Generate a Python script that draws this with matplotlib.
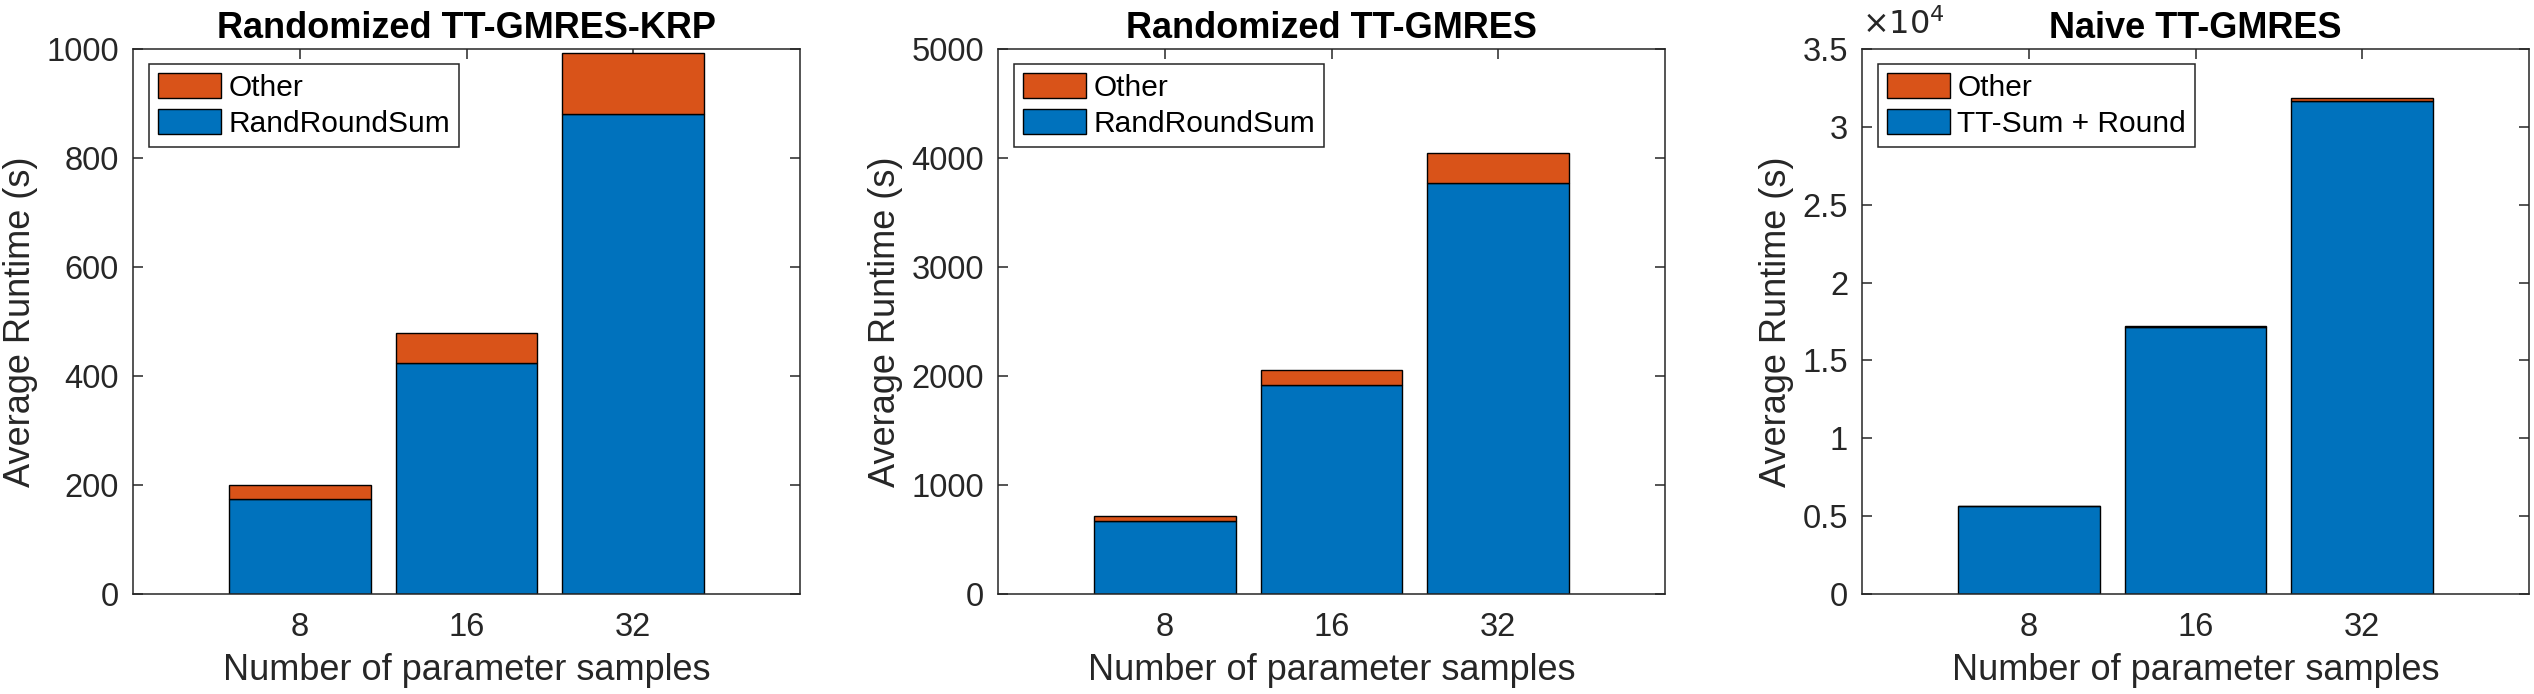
import matplotlib
matplotlib.use("Agg")
import matplotlib.pyplot as plt
import numpy as np
from matplotlib.patches import Patch
from matplotlib.ticker import FuncFormatter

plt.rcParams["font.family"] = ["Liberation Sans", "DejaVu Sans"]

SAMPLES = ["8", "16", "32"]
TITLES = ["Randomized TT-GMRES-KRP", "Randomized TT-GMRES", "Naive TT-GMRES"]
MAIN_LABELS = ["RandRoundSum", "RandRoundSum", "TT-Sum + Round"]
MAIN_TIME = [
    [175, 424, 880],
    [673, 1917, 3772],
    [5640, 17130, 31690],
]
TOTAL_TIME = [
    [200, 479, 992],
    [716, 2054, 4044],
    [5660, 17210, 31850],
]
YMAX = [1000, 5000, 35000]
YSTEP = [200, 1000, 5000]

BLUE = "#0072BD"
ORANGE = "#D95319"
AXCOL = "#262626"

W, H = 2534, 694
LEFTS = [133, 998, 1862]
AX_W, AX_TOP, AX_BOT = 667, 49, 594

fig = plt.figure(figsize=(W / 100, H / 100), dpi=100)

for i in range(3):
    ax = fig.add_axes([LEFTS[i] / W, 1 - AX_BOT / H, AX_W / W, (AX_BOT - AX_TOP) / H])
    x = np.arange(1, len(SAMPLES) + 1)
    main = np.array(MAIN_TIME[i], dtype=float)
    other = np.array(TOTAL_TIME[i], dtype=float) - main
    ax.bar(x, main, width=0.85, color=BLUE, edgecolor="black", linewidth=1.0, zorder=2)
    ax.bar(x, other, bottom=main, width=0.85, color=ORANGE, edgecolor="black", linewidth=1.0, zorder=2)

    ax.set_xlim(0, 4)
    ax.set_ylim(0, YMAX[i])
    ax.set_xticks(x)
    ax.set_xticklabels(SAMPLES)
    ax.set_yticks(np.arange(0, YMAX[i] + 1, YSTEP[i]))
    if i == 2:
        ax.yaxis.set_major_formatter(FuncFormatter(lambda v, p: f"{v / 1e4:g}"))
        ax.text(0.0, 1.015, r"$\times 10^4$", transform=ax.transAxes, fontsize=23,
                color=AXCOL, ha="left", va="bottom")

    for side in ax.spines.values():
        side.set_color(AXCOL)
        side.set_linewidth(1.1)
    ax.tick_params(direction="in", top=True, right=True, length=7, width=1.1,
                   color=AXCOL, labelcolor=AXCOL, labelsize=23.5)
    ax.tick_params(axis="x", pad=13)
    ax.tick_params(axis="y", pad=10)

    ax.set_title(TITLES[i], fontsize=26, fontweight="bold", pad=8)
    ax.set_xlabel("Number of parameter samples", fontsize=26, color=AXCOL, labelpad=7)
    ax.set_ylabel("Average Runtime (s)", fontsize=26, color=AXCOL, labelpad=6)

    handles = [
        Patch(facecolor=ORANGE, edgecolor="black", linewidth=1.0, label="Other"),
        Patch(facecolor=BLUE, edgecolor="black", linewidth=1.0, label=MAIN_LABELS[i]),
    ]
    leg = ax.legend(handles=handles, loc="upper left",
                    bbox_to_anchor=(16 / AX_W, 1 - 15 / (AX_BOT - AX_TOP)),
                    borderaxespad=0, fontsize=21.5, fancybox=False, framealpha=1,
                    edgecolor=AXCOL, handlelength=2.1, handleheight=0.9,
                    handletextpad=0.25, labelspacing=0.25, borderpad=0.3)
    leg.get_frame().set_linewidth(1.1)

fig.savefig("out.png", dpi=100, facecolor="white")
